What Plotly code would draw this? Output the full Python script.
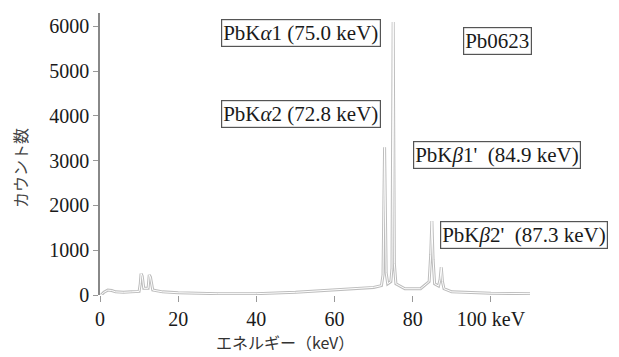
import plotly.graph_objects as go

# Spectrum (energy keV, counts)
energy = [0.3, 1.0, 2.0, 3.0, 4.0, 6.0, 8.0, 10.0, 10.3, 10.5, 10.8, 11.2, 12.3, 12.6, 12.9, 13.5,
          16.0, 20.0, 30.0, 40.0, 50.0, 60.0, 65.0, 70.0, 72.0, 72.4, 72.8, 73.2, 73.6, 74.4, 74.7,
          75.0, 75.3, 75.7, 78.0, 82.0, 84.2, 84.6, 84.9, 85.2, 85.6, 86.6, 87.0, 87.3, 87.6, 88.0,
          90.0, 95.0, 100.0, 110.0]
counts = [0, 60, 110, 100, 70, 60, 70, 80, 250, 480, 420, 150, 150, 450, 400, 110,
          70, 50, 30, 30, 60, 110, 140, 170, 210, 450, 3300, 500, 250, 300, 600,
          6100, 700, 250, 140, 140, 300, 900, 1650, 800, 250, 200, 350, 620, 300, 140,
          70, 50, 40, 30]

x_ticks = [0, 20, 40, 60, 80, 100]
x_tick_text = ["0", "20", "40", "60", "80", "100 keV"]
y_ticks = [0, 1000, 2000, 3000, 4000, 5000, 6000]
y_tick_text = ["0", "1000", "2000", "3000", "4000", "5000", "6000"]

labels = ["PbK<i>α</i>1 (75.0 keV)", "PbK<i>α</i>2 (72.8 keV)", "Pb0623",
          "PbK<i>β</i>1'  (84.9 keV)", "PbK<i>β</i>2'  (87.3 keV)"]
label_x = [51.4, 51.4, 101.8, 101.6, 87.0]
label_y = [5853, 4044, 5675, 3128, 1340]
label_anchor = ["center", "center", "center", "center", "left"]

serif = "Liberation Serif"
jp = "Noto Sans CJK JP"

fig = go.Figure()
fig.add_trace(go.Scatter(x=energy, y=counts, mode="lines",
                         line=dict(color="#bdbdbd", width=3.0), hoverinfo="skip"))
fig.add_trace(go.Scatter(x=energy, y=counts, mode="lines",
                         line=dict(color="#ffffff", width=1.0), hoverinfo="skip"))

for t, x, y, a in zip(labels, label_x, label_y, label_anchor):
    fig.add_annotation(x=x, y=y, xref="x", yref="y", text=t, showarrow=False,
                       xanchor=a,
                       font=dict(family=serif, size=21, color="#1a1a1a"),
                       bordercolor="#555", borderwidth=1.2, borderpad=1,
                       bgcolor="white")

fig.add_annotation(x=0.43, y=-0.165, xref="paper", yref="paper", text="エネルギー（keV）",
                   showarrow=False, yanchor="middle", xanchor="center",
                   font=dict(family=jp, size=16, color="#333"))
fig.add_annotation(x=-0.186, y=0.45, xref="paper", yref="paper", text="カウント数",
                   showarrow=False, textangle=-90, xanchor="center", yanchor="middle",
                   font=dict(family=jp, size=16, color="#444"))

fig.update_layout(
    width=611, height=349,
    margin=dict(l=92, r=89, t=5, b=62),
    paper_bgcolor="white", plot_bgcolor="white",
    showlegend=False,
    xaxis=dict(range=[0, 110], tickvals=x_ticks, ticktext=x_tick_text,
               showgrid=False, zeroline=False, showline=False,
               ticks="outside", ticklen=6, tickcolor="#999", tickwidth=1.2,
               tickfont=dict(family=serif, size=20, color="#1a1a1a")),
    yaxis=dict(range=[0, 6300], tickvals=y_ticks, ticktext=y_tick_text,
               showgrid=False, zeroline=False, showline=True, linecolor="#888", linewidth=1.6,
               ticks="outside", ticklen=5, tickcolor="#999", tickwidth=1.2,
               tickfont=dict(family=serif, size=20, color="#1a1a1a")),
)

fig.write_html("out.html")
